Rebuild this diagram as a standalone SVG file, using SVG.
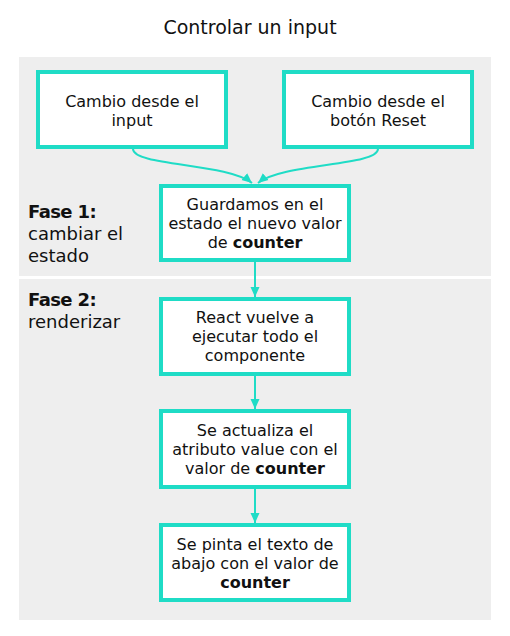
<svg xmlns="http://www.w3.org/2000/svg" width="510" height="636" viewBox="0 0 510 636">
<style>
.panel{fill:#eeeeee}
.box rect{fill:#ffffff;stroke:#1fdcc6;stroke-width:4}
text{font-family:"DejaVu Sans","Open Sans",sans-serif;fill:#111111}
.t{font-size:16px;text-anchor:middle}
.title{font-size:19px;text-anchor:middle}
.lbl{font-size:18px}
.b{font-weight:bold}
.lb{font-weight:bold;letter-spacing:-0.6px}
.edge{fill:none;stroke:#1fdcc6;stroke-width:2}
</style>
<defs>
<marker id="ah" viewBox="0 0 10 10" refX="10" refY="5" markerWidth="10" markerHeight="10" markerUnits="userSpaceOnUse" orient="auto">
<path d="M0,0.5 L10,5 L0,9.5 z" fill="#1fdcc6"/>
</marker>
</defs>
<rect width="510" height="636" fill="#ffffff"/>
<text class="title" x="250" y="34">Controlar un input</text>
<rect class="panel" x="19" y="57" width="472" height="219"/>
<rect class="panel" x="19" y="279" width="472" height="341"/>
<g id="fase1"><text class="lbl" x="28" y="218"><tspan class="lb">Fase 1:</tspan><tspan x="28" y="240">cambiar el</tspan><tspan x="28" y="262">estado</tspan></text></g>
<g id="fase2"><text class="lbl" x="28" y="306"><tspan class="lb">Fase 2:</tspan><tspan x="28" y="328">renderizar</tspan></text></g>
<g id="connectors">
<path class="edge" marker-end="url(#ah)" d="M133,149 C133,166 228,163 252,183"/>
<path class="edge" marker-end="url(#ah)" d="M378,149 C378,166 282,163 258,183"/>
<path class="edge" marker-end="url(#ah)" d="M255,262 L255,297"/>
<path class="edge" marker-end="url(#ah)" d="M255,376 L255,409"/>
<path class="edge" marker-end="url(#ah)" d="M255,489 L255,523"/>
</g>
<g id="nA" class="box"><rect x="38" y="72" width="188" height="75"/><text class="t" x="132" y="107">Cambio desde el<tspan x="132" y="126">input</tspan></text></g>
<g id="nB" class="box"><rect x="284" y="72" width="188" height="75"/><text class="t" x="378" y="107">Cambio desde el<tspan x="378" y="126">botón Reset</tspan></text></g>
<g id="nC" class="box"><rect x="161" y="186" width="188" height="74"/><text class="t" x="255" y="210">Guardamos en el<tspan x="255" y="229">estado el nuevo valor</tspan><tspan x="255" y="248">de <tspan class="b">counter</tspan></tspan></text></g>
<g id="nD" class="box"><rect x="161" y="299" width="188" height="75"/><text class="t" x="255" y="323">React vuelve a<tspan x="255" y="342">ejecutar todo el</tspan><tspan x="255" y="361">componente</tspan></text></g>
<g id="nE" class="box"><rect x="161" y="411" width="188" height="76"/><text class="t" x="255" y="436">Se actualiza el<tspan x="255" y="455">atributo value con el</tspan><tspan x="255" y="474">valor de <tspan class="b">counter</tspan></tspan></text></g>
<g id="nF" class="box"><rect x="161" y="525" width="188" height="75"/><text class="t" x="255" y="550">Se pinta el texto de<tspan x="255" y="569">abajo con el valor de</tspan><tspan x="255" y="588" class="b">counter</tspan></text></g>
</svg>
